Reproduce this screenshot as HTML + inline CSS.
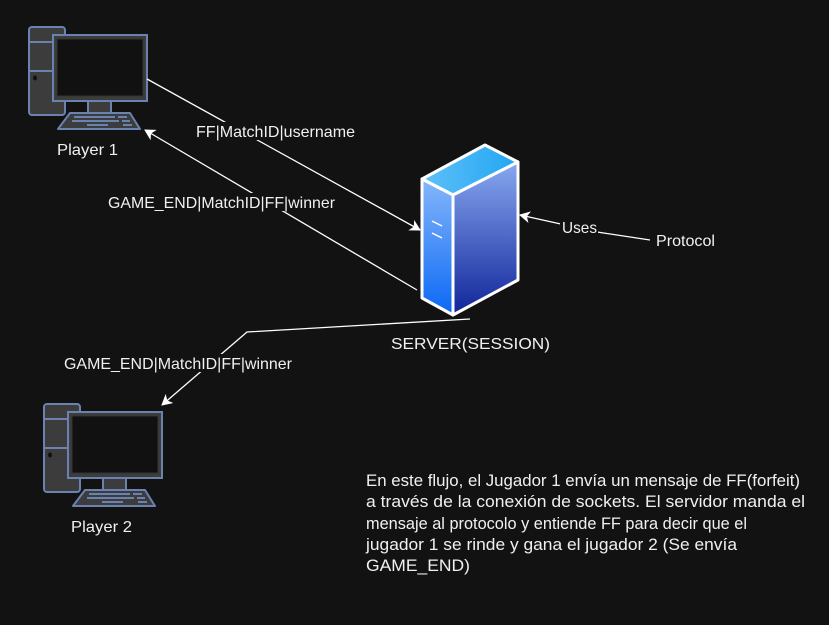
<!DOCTYPE html>
<html><head><meta charset="utf-8"><style>
html,body{margin:0;padding:0;background:#121212;}
svg{display:block;}
text{font-family:"Liberation Sans",sans-serif;fill:#f0f0f0;}
</style></head><body>
<svg width="829" height="625" viewBox="0 0 829 625" xmlns="http://www.w3.org/2000/svg">
<defs>
<g id="pc">
 <rect x="29" y="27" width="36" height="88" rx="3" fill="#3c3c3c" stroke="#6a82b0" stroke-width="2"/>
 <line x1="29" y1="42" x2="52" y2="42" stroke="#6a82b0" stroke-width="2"/>
 <line x1="29" y1="71" x2="52" y2="71" stroke="#6a82b0" stroke-width="2"/>
 <ellipse cx="35" cy="78" rx="2" ry="2.5" fill="#111"/>
 <rect x="88" y="100" width="23" height="13" fill="#3c3c3c" stroke="#6a82b0" stroke-width="2"/>
 <rect x="53" y="35" width="94" height="66" fill="#3c3c3c" stroke="#6a82b0" stroke-width="2"/>
 <rect x="57" y="39" width="86" height="57" fill="#111" stroke="#333" stroke-width="1"/>
 <polygon points="70,113 130,113 140,129 58,129" fill="#3c3c3c" stroke="#6a82b0" stroke-width="2" stroke-linejoin="round"/>
 <line x1="74" y1="117" x2="115" y2="117" stroke="#6a82b0" stroke-width="2"/>
 <line x1="118" y1="117" x2="127" y2="117" stroke="#6a82b0" stroke-width="2"/>
 <line x1="72" y1="121" x2="119" y2="121" stroke="#6a82b0" stroke-width="2"/>
 <line x1="122" y1="121" x2="130" y2="121" stroke="#6a82b0" stroke-width="2"/>
 <line x1="87" y1="125" x2="108" y2="125" stroke="#6a82b0" stroke-width="2"/>
 <line x1="123" y1="125" x2="132" y2="125" stroke="#6a82b0" stroke-width="2"/>
</g>
<linearGradient id="gl" x1="0" y1="0" x2="0" y2="1"><stop offset="0" stop-color="#86b6fa"/><stop offset="1" stop-color="#0a68f5"/></linearGradient>
<linearGradient id="gr" x1="0" y1="0" x2="0" y2="1"><stop offset="0" stop-color="#88a8f0"/><stop offset="1" stop-color="#10259a"/></linearGradient>
<linearGradient id="gt" x1="0" y1="0" x2="1" y2="0"><stop offset="0" stop-color="#5ec0f8"/><stop offset="1" stop-color="#22a6f2"/></linearGradient>
<marker id="ah" markerWidth="12" markerHeight="12" refX="10" refY="6" orient="auto" markerUnits="userSpaceOnUse">
 <path d="M0,0 L11,6 L0,12 L3,6 Z" fill="#fff"/>
</marker>
</defs>
<use href="#pc"/>
<use href="#pc" transform="translate(15,377)"/>
<text x="57" y="155" font-size="16" textLength="61" lengthAdjust="spacingAndGlyphs">Player 1</text>
<text x="71" y="532" font-size="16" textLength="61" lengthAdjust="spacingAndGlyphs">Player 2</text>

<!-- server -->
<polygon points="485,145 518,162 453,195 422,179" fill="url(#gt)" stroke="#fff" stroke-width="3" stroke-linejoin="round"/>
<polygon points="422,179 453,195 453,315 422,298" fill="url(#gl)" stroke="#fff" stroke-width="3" stroke-linejoin="round"/>
<polygon points="453,195 518,162 518,280 453,315" fill="url(#gr)" stroke="#fff" stroke-width="3" stroke-linejoin="round"/>
<line x1="432" y1="221" x2="442" y2="226" stroke="#fff" stroke-width="1.5"/>
<line x1="432" y1="233" x2="442" y2="238" stroke="#fff" stroke-width="1.5"/>
<text x="391" y="349" font-size="16" textLength="159" lengthAdjust="spacingAndGlyphs">SERVER(SESSION)</text>

<!-- connectors -->
<line x1="147" y1="79" x2="420" y2="230" stroke="#fff" stroke-width="1.3" marker-end="url(#ah)"/>
<line x1="417" y1="290" x2="145" y2="130" stroke="#fff" stroke-width="1.3" marker-end="url(#ah)"/>
<polyline points="470,319 247,332 162,405" fill="none" stroke="#fff" stroke-width="1.3" marker-end="url(#ah)"/>
<polyline points="650,240 597,232 520,215" fill="none" stroke="#fff" stroke-width="1.3" marker-end="url(#ah)"/>

<rect x="194" y="122" width="162" height="18" fill="#121212"/>
<text x="196" y="137" font-size="16" textLength="159" lengthAdjust="spacingAndGlyphs">FF|MatchID|username</text>
<rect x="105" y="193" width="232" height="18" fill="#121212"/>
<text x="108" y="208" font-size="16" textLength="227" lengthAdjust="spacingAndGlyphs">GAME_END|MatchID|FF|winner</text>
<rect x="62" y="354" width="232" height="18" fill="#121212"/>
<text x="64" y="369" font-size="16" textLength="228" lengthAdjust="spacingAndGlyphs">GAME_END|MatchID|FF|winner</text>
<rect x="560" y="219" width="38" height="16" fill="#121212"/>
<text x="562" y="233" font-size="16" textLength="35" lengthAdjust="spacingAndGlyphs">Uses</text>
<text x="656" y="246" font-size="16" textLength="59" lengthAdjust="spacingAndGlyphs">Protocol</text>

<g font-size="16.5">
<text x="366" y="486" textLength="434" lengthAdjust="spacingAndGlyphs">En este flujo, el Jugador 1 envía un mensaje de FF(forfeit)</text>
<text x="366" y="507" textLength="439" lengthAdjust="spacingAndGlyphs">a través de la conexión de sockets. El servidor manda el</text>
<text x="366" y="529" textLength="381" lengthAdjust="spacingAndGlyphs">mensaje al protocolo y entiende FF para decir que el</text>
<text x="366" y="550" textLength="371" lengthAdjust="spacingAndGlyphs">jugador 1 se rinde y gana el jugador 2 (Se envía</text>
<text x="366" y="571" textLength="104" lengthAdjust="spacingAndGlyphs">GAME_END)</text>
</g>
</svg>
</body></html>
